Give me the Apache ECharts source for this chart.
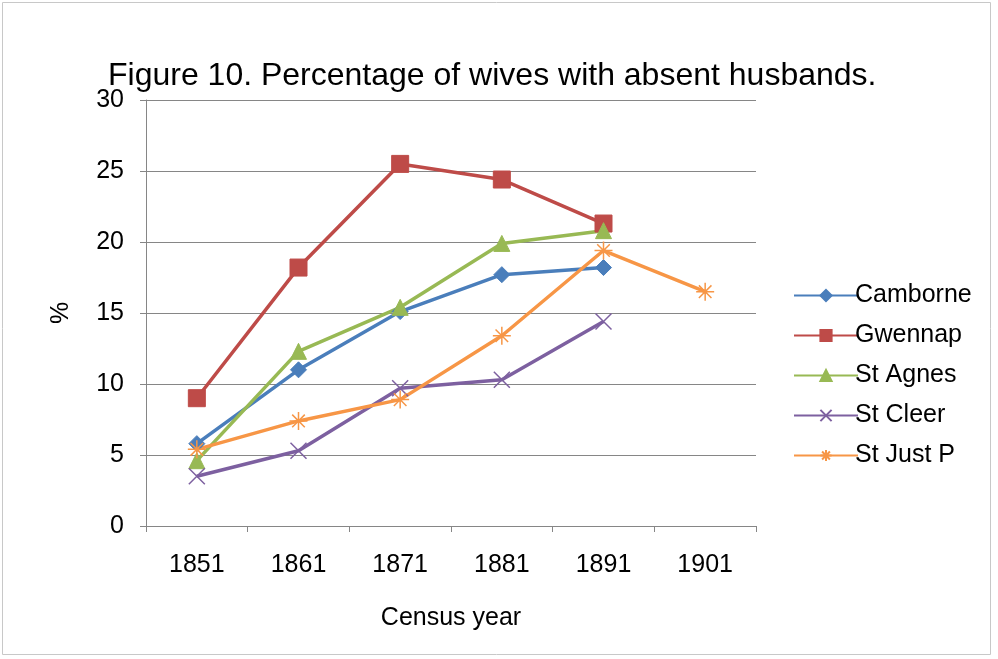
<!DOCTYPE html>
<html>
<head>
<meta charset="utf-8">
<script src="https://cdn.jsdelivr.net/npm/echarts@6/dist/echarts.min.js"></script>
<style>
  html, body { margin: 0; padding: 0; background: #fff; }
  #chart { width: 998px; height: 659px; }
</style>
</head>
<body>
<div id="chart"></div>
<script>
// census years and series values (%)
const years = ['1851', '1861', '1871', '1881', '1891', '1901'];
const camborne = [5.8, 11.0, 15.1, 17.7, 18.2, null];
const gwennap = [9.0, 18.2, 25.5, 24.4, 21.3, null];
const stAgnes = [4.6, 12.3, 15.4, 19.9, 20.8, null];
const stCleer = [3.5, 5.3, 9.7, 10.3, 14.4, null];
const stJustP = [5.4, 7.4, 8.9, 13.4, 19.4, 16.5];

const crossPath = 'path://M0,0L10,10M10,0L0,10';
const starPath = 'path://M5,0L5,10M0,5L10,5M1.5,1.5L8.5,8.5M8.5,1.5L1.5,8.5';

function lineSeries(name, data, color, symbol, size, strokeOnly) {
  return {
    name: name,
    type: 'line',
    data: data,
    symbol: symbol,
    symbolSize: size,
    showAllSymbol: true,
    connectNulls: false,
    lineStyle: { color: color, width: 3.5 },
    itemStyle: strokeOnly
      ? { color: 'none', borderColor: color, borderWidth: 1.5 }
      : { color: color, borderColor: color, borderWidth: 1 }
  };
}

const chart = echarts.init(document.getElementById('chart'));
chart.setOption({
  backgroundColor: '#fff',
  animation: false,
  textStyle: { fontFamily: 'Liberation Sans, Arial, sans-serif' },
  graphic: [{
    type: 'rect',
    shape: { x: 2.5, y: 2.5, width: 988, height: 652 },
    style: { fill: 'none', stroke: '#c8c8c8', lineWidth: 1 }
  }],
  title: {
    text: 'Figure 10. Percentage of wives with absent husbands.',
    left: 103,
    top: 55,
    textStyle: { fontSize: 32, fontWeight: 'normal', color: '#000' }
  },
  legend: {
    orient: 'vertical',
    left: 788,
    top: 278,
    itemWidth: 64,
    itemHeight: 14,
    itemGap: 15,
    textStyle: { fontSize: 25, color: '#000', padding: [0, 0, 0, -8] },
    data: ['Camborne', 'Gwennap', 'St Agnes', 'St Cleer', 'St Just P']
  },
  grid: { left: 146, right: 242, top: 100, bottom: 133 },
  xAxis: {
    type: 'category',
    data: years,
    name: 'Census year',
    nameLocation: 'middle',
    nameGap: 80,
    nameTextStyle: { fontSize: 25, color: '#000' },
    axisLine: { lineStyle: { color: '#868686', width: 1 } },
    axisTick: { show: true, length: 6, alignWithLabel: false, lineStyle: { color: '#868686' } },
    axisLabel: { fontSize: 25, color: '#000', margin: 27 }
  },
  yAxis: {
    type: 'value',
    min: 0,
    max: 30,
    interval: 5,
    name: '%',
    nameLocation: 'middle',
    nameGap: 72,
    nameRotate: 90,
    nameTextStyle: { fontSize: 25, color: '#000' },
    axisLine: { show: true, lineStyle: { color: '#868686', width: 1 } },
    axisTick: { show: true, length: 6, lineStyle: { color: '#868686' } },
    axisLabel: { fontSize: 25, color: '#000', margin: 22 },
    splitLine: { lineStyle: { color: '#868686', width: 1 } }
  },
  series: [
    lineSeries('Camborne', camborne, '#4a7ebb', 'diamond', 16, false),
    lineSeries('Gwennap', gwennap, '#be4b48', 'rect', 17, false),
    lineSeries('St Agnes', stAgnes, '#98b954', 'triangle', 16, false),
    lineSeries('St Cleer', stCleer, '#7d60a0', crossPath, 16, true),
    lineSeries('St Just P', stJustP, '#f79646', starPath, 18, true)
  ]
});
</script>
</body>
</html>
